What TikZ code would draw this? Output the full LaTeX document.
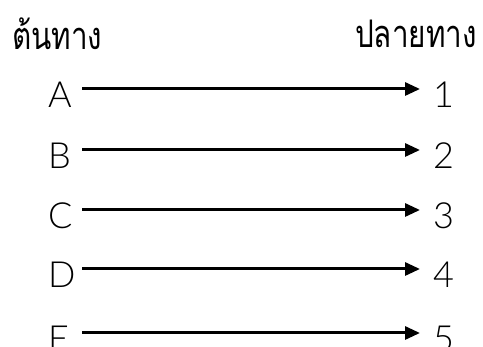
\documentclass[tikz,border=0pt]{standalone}
\usepackage{fontspec}
\setmainfont[Script=Thai,FakeStretch=0.78]{Loma}
\newfontfamily\latinfont{Lato Light}
\usepackage{tikz}
\usetikzlibrary{arrows.meta}
\tikzset{
	src/.style={anchor=base west, inner sep=0pt, text width=34pt, align=left, text height=38pt, text depth=0pt, font=\latinfont\fontsize{36}{36}\selectfont},
	dst/.style={anchor=base west, inner ysep=0pt, inner xsep=13pt, text height=38pt, text depth=0pt, font=\latinfont\fontsize{36}{36}\selectfont},
	head/.style={anchor=base west, inner sep=0pt, font=\fontsize{38}{38}\selectfont},
	link/.style={line width=3pt, -{Triangle[length=15pt,width=13pt]}}
}

\begin{document}
\begin{tikzpicture}[x=1pt,y=1pt]
		%%%%% START %%%%%
		\useasboundingbox (0,0) rectangle (483,-347);
		\clip (0,0) rectangle (483,-347);
		
		\node[head] (from) at (12,-50) {ต้นทาง};
		\node[head, anchor=base east] (to) at (477,-48) {ปลายทาง};
		
		\node[src] (a) at (48,-108) {A};
		\node[src] (b) at (48,-169) {B};
		\node[src] (c) at (48,-229) {C};
		\node[src] (d) at (48,-288) {D};
		\node[src] (e) at (48,-352) {E};
		
		\node[dst] (n1) at (420,-108) {1};
		\node[dst] (n2) at (420,-169) {2};
		\node[dst] (n3) at (420,-229) {3};
		\node[dst] (n4) at (420,-288) {4};
		\node[dst] (n5) at (420,-352) {5};
		
		\draw[link] (a.east) -- (n1.west);
		\draw[link] (b.east) -- (n2.west);
		\draw[link] (c.east) -- (n3.west);
		\draw[link] (d.east) -- (n4.west);
		\draw[link] (e.east) -- (n5.west);
		%%%%% END %%%%%
	\end{tikzpicture}
\end{document}
